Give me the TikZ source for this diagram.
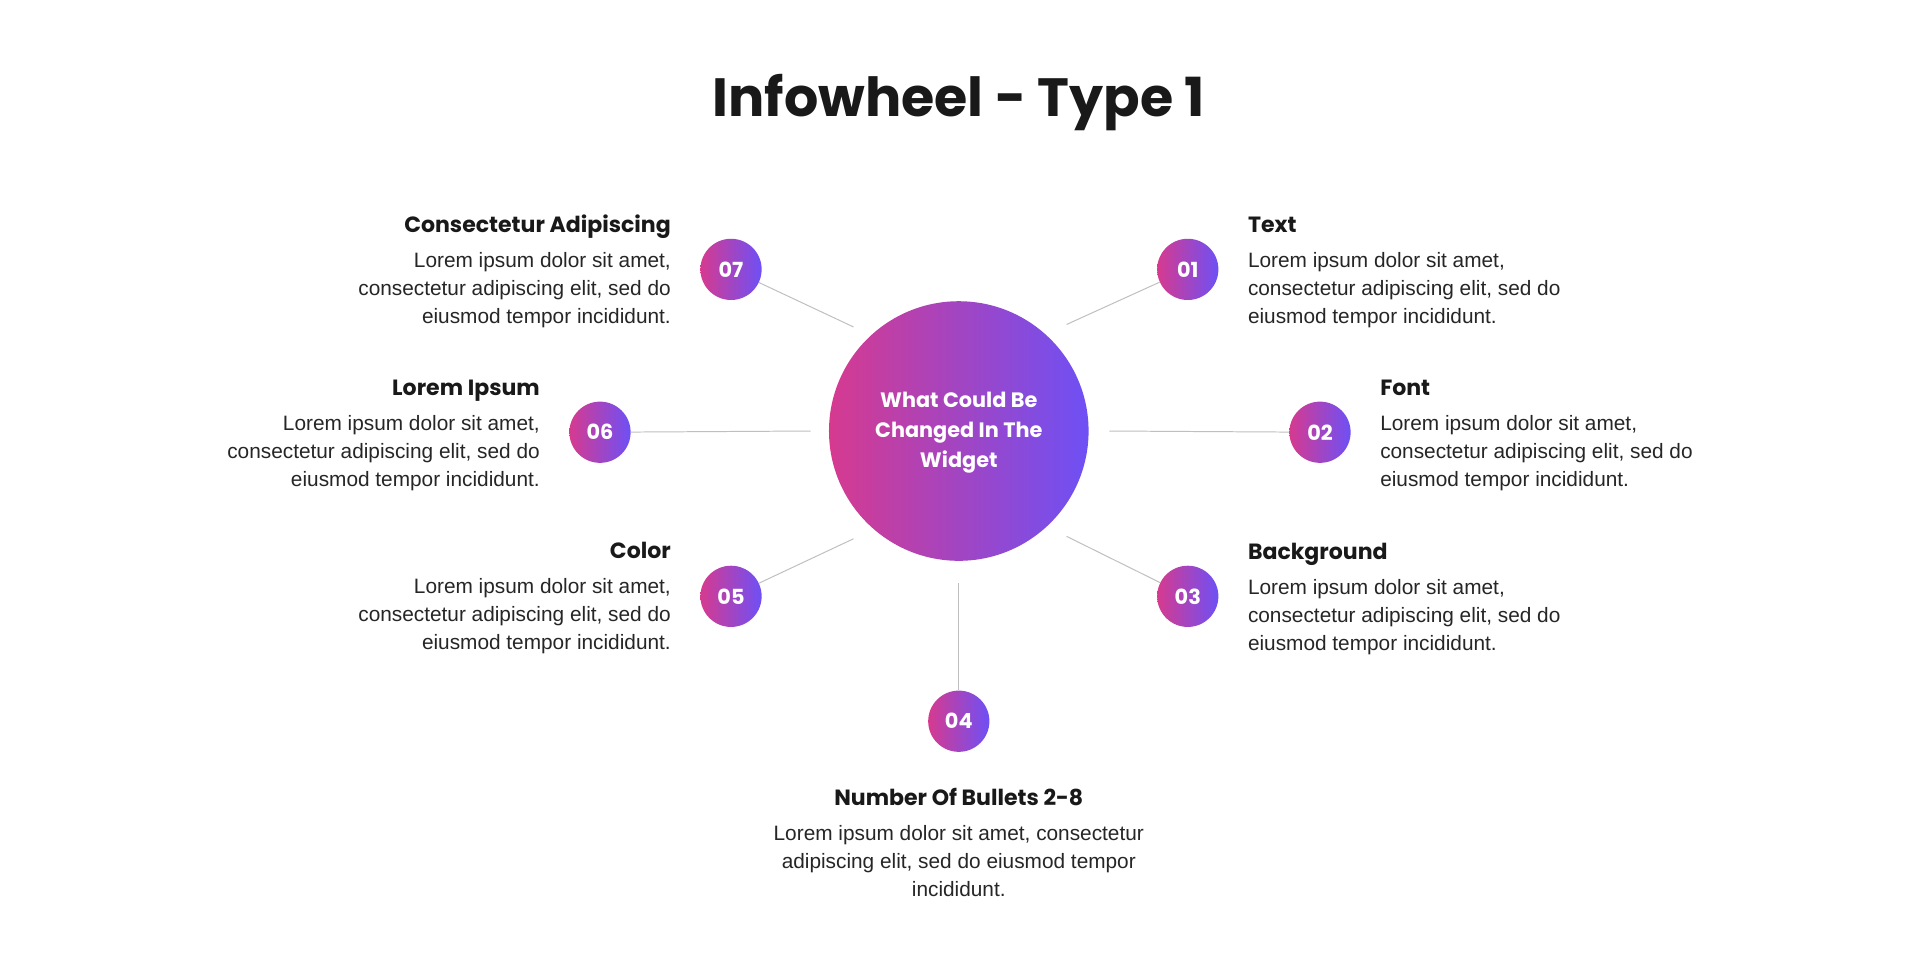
\documentclass[tikz,border=0pt]{standalone}
\usepackage{fontspec}
\setmainfont{Liberation Sans}
\newfontfamily\headfont{Poppins}
\begin{document}
\begin{tikzpicture}[x=1pt,y=-1pt,
  conn/.style={draw=black!25,line width=0.8pt},
  num/.style={text=white,font=\headfont\bfseries\fontsize{17}{20}\selectfont},
  head/.style={inner sep=0,font=\headfont\bfseries\fontsize{18}{22}\selectfont,text=black!90},
  body/.style={inner sep=0,font=\fontsize{17}{23}\selectfont,text=black!85}]
\definecolor{gA}{HTML}{D63A8F}
\definecolor{gB}{HTML}{6E50F5}
\useasboundingbox (0,0) rectangle (1568,786);
\fill[white] (0,0) rectangle (1568,786);
\node[inner sep=0,anchor=base,font=\headfont\bfseries\fontsize{44}{50}\selectfont,text=black!90] (title) at (783,95) {Infowheel - Type 1};
% center
\shade[left color=gA,right color=gB] (783,352) circle (106);
\node[align=center,text=white,font=\headfont\bfseries\fontsize{17}{24.5}\selectfont] (c) at (783,353) {What Could Be\\Changed In The\\Widget};
\coordinate (ca) at (697,267); \coordinate (cb) at (871,265);
\coordinate (cc) at (662,352); \coordinate (cd) at (906,352);
\coordinate (ce) at (697,440); \coordinate (cf) at (871,438);
\coordinate (cg) at (783,476);
% bullets
\foreach \n/\x/\y in {07/597/220,01/970/220,06/490/353,02/1078/353,05/597/487,03/970/487,04/783/589}{
  \shade[left color=gA,right color=gB] (\x,\y) circle (25);
  \node[num,circle,minimum size=50pt,inner sep=0] (b\n) at (\x,\y) {\n};
}
\draw[conn] (b07) -- (ca); \draw[conn] (b01) -- (cb);
\draw[conn] (b06) -- (cc); \draw[conn] (b02) -- (cd);
\draw[conn] (b05) -- (ce); \draw[conn] (b03) -- (cf);
\draw[conn] (b04) -- (cg);
% texts
\node[head,anchor=base east] (h7) at (548,190) {Consectetur Adipiscing};
\node[body,anchor=north east,align=right] (t7) at (548,206) {Lorem ipsum dolor sit amet,\\consectetur adipiscing elit, sed do\\eiusmod tempor incididunt.};
\node[head,anchor=base west] (h1) at (1019,190) {Text};
\node[body,anchor=north west,align=left] (t1) at (1019,206) {Lorem ipsum dolor sit amet,\\consectetur adipiscing elit, sed do\\eiusmod tempor incididunt.};
\node[head,anchor=base east] (h6) at (441,323) {Lorem Ipsum};
\node[body,anchor=north east,align=right] (t6) at (441,339) {Lorem ipsum dolor sit amet,\\consectetur adipiscing elit, sed do\\eiusmod tempor incididunt.};
\node[head,anchor=base west] (h2) at (1127,323) {Font};
\node[body,anchor=north west,align=left] (t2) at (1127,339) {Lorem ipsum dolor sit amet,\\consectetur adipiscing elit, sed do\\eiusmod tempor incididunt.};
\node[head,anchor=base east] (h5) at (548,456) {Color};
\node[body,anchor=north east,align=right] (t5) at (548,472) {Lorem ipsum dolor sit amet,\\consectetur adipiscing elit, sed do\\eiusmod tempor incididunt.};
\node[head,anchor=base west] (h3) at (1019,457) {Background};
\node[body,anchor=north west,align=left] (t3) at (1019,473) {Lorem ipsum dolor sit amet,\\consectetur adipiscing elit, sed do\\eiusmod tempor incididunt.};
\node[head,anchor=base] (h4) at (783,658) {Number Of Bullets 2-8};
\node[body,anchor=north,align=center] (t4) at (783,674) {Lorem ipsum dolor sit amet, consectetur\\adipiscing elit, sed do eiusmod tempor\\incididunt.};
\end{tikzpicture}
\end{document}
